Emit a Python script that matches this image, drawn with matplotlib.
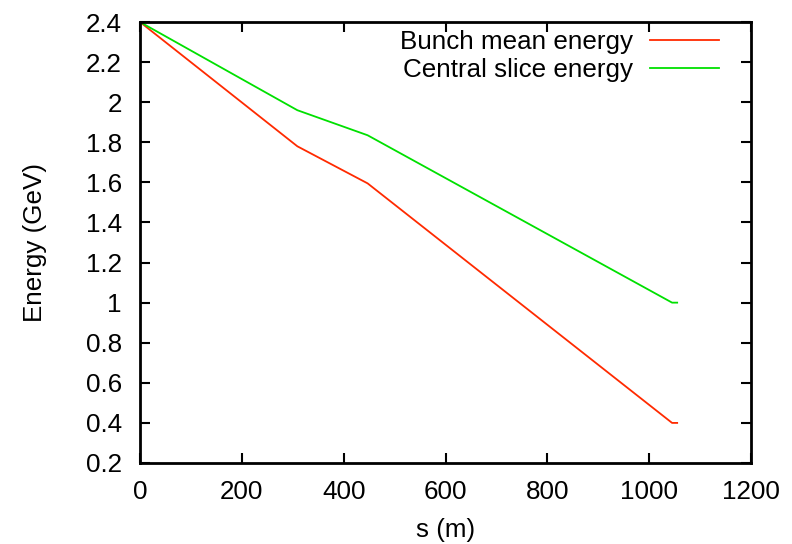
import matplotlib
matplotlib.use("Agg")
import matplotlib.pyplot as plt

plt.rcParams['font.family'] = ['Liberation Sans', 'DejaVu Sans']

s_mean = [0, 309, 447, 1045, 1055]
e_mean = [2.4, 1.78, 1.595, 0.40, 0.40]
s_central = [0, 309, 447, 1045, 1055]
e_central = [2.4, 1.96, 1.835, 1.0, 1.0]

xticks = [0, 200, 400, 600, 800, 1000, 1200]
yticks = [0.2, 0.4, 0.6, 0.8, 1.0, 1.2, 1.4, 1.6, 1.8, 2.0, 2.2, 2.4]
ylabels = ['0.2', '0.4', '0.6', '0.8', '1', '1.2', '1.4', '1.6', '1.8', '2', '2.2', '2.4']

FS = 18.7

fig = plt.figure(figsize=(7.92, 5.44), dpi=100)
L, R, T, B = 140, 751, 22, 463
ax = fig.add_axes([L/792, 1-B/544, (R-L)/792, (B-T)/544])
ax.plot(s_mean, e_mean, color='#ff2a00', lw=1.3, label='Bunch mean energy')
ax.plot(s_central, e_central, color='#00e000', lw=1.3, label='Central slice energy')
ax.set_xlim(0, 1200)
ax.set_ylim(0.2, 2.4)
ax.set_xticks(xticks)
ax.set_xticklabels([str(t) for t in xticks])
ax.set_yticks(yticks)
ax.set_yticklabels(ylabels)
ax.tick_params(direction='in', length=7, width=1.5, top=True, right=True,
               labelsize=FS)
ax.tick_params(axis='y', pad=13)
ax.tick_params(axis='x', pad=12)
for sp in ax.spines.values():
    sp.set_linewidth(2)
ax.set_xlabel('s (m)', fontsize=FS, labelpad=10)
ax.set_ylabel('Energy (GeV)', fontsize=FS, labelpad=28)
leg = ax.legend(loc='upper right', frameon=False, fontsize=FS, markerfirst=False,
                handlelength=2.65, borderaxespad=0, borderpad=0, labelspacing=0.14,
                handletextpad=0.65,
                bbox_to_anchor=(1 - 32/(R-L), 1 - 8/(B-T)))
for t in leg.get_texts():
    t.set_ha('right')
fig.savefig('out.png', dpi=100)
